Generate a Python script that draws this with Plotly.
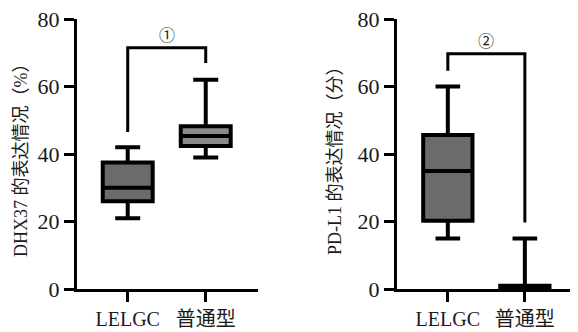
import plotly.graph_objects as go

# ---- data ----
categories = ["LELGC", "普通型"]

# Panel A: DHX37 expression (%)
dhx_lower = [21, 39]
dhx_q1 = [26, 42.4]
dhx_median = [30, 45.3]
dhx_q3 = [37.5, 48.2]
dhx_upper = [42, 62]

# Panel B: PD-L1 expression (score)
pdl_lower = [15, 0]
pdl_q1 = [20.2, 0]
pdl_median = [35, 0]
pdl_q3 = [45.6, 1]
pdl_upper = [60, 15]

# significance brackets: [top, left end, right end]
bracket_top = [71.5, 69.7]
bracket_left_end = [46.5, 64.7]
bracket_right_end = [67, 19.7]
bracket_labels = ["①", "②"]

y_titles = ["DHX37 的表达情况（%）", "PD-L1 的表达情况（分）"]
y_ticks = [0, 20, 40, 60, 80]

# page has an 8px body margin; figure fills the rest of the 578x332 window
OFF = 8
W, H = 578 - OFF, 332 - OFF
FONT = "Liberation Serif, 'Noto Sans CJK SC', serif"

fig = go.Figure()

panels = [
    (dhx_lower, dhx_q1, dhx_median, dhx_q3, dhx_upper, ["#6b6b6b", "#8b8b8b"]),
    (pdl_lower, pdl_q1, pdl_median, pdl_q3, pdl_upper, ["#6b6b6b", "#6b6b6b"]),
]

for p, (lo, q1, med, q3, up, colors) in enumerate(panels):
    xa = "x" if p == 0 else "x2"
    ya = "y" if p == 0 else "y2"
    for i, cat in enumerate(categories):
        fig.add_trace(go.Box(
            x=[cat], q1=[q1[i]], median=[med[i]], q3=[q3[i]],
            lowerfence=[lo[i]], upperfence=[up[i]],
            width=0.64, whiskerwidth=0.5,
            fillcolor=colors[i], line=dict(color="black", width=4),
            boxpoints=False, xaxis=xa, yaxis=ya, showlegend=False,
            hoverinfo="skip",
        ))
    # bracket
    fig.add_trace(go.Scatter(
        x=[categories[0], categories[0], categories[1], categories[1]],
        y=[bracket_left_end[p], bracket_top[p], bracket_top[p], bracket_right_end[p]],
        mode="lines", line=dict(color="black", width=3),
        xaxis=xa, yaxis=ya, showlegend=False, hoverinfo="skip",
        cliponaxis=False,
    ))

axis_common = dict(
    showline=True, linecolor="black", linewidth=3,
    ticks="outside", ticklen=10, tickwidth=3, tickcolor="black",
    showgrid=False, zeroline=False, automargin=False,
    ticklabeloverflow="allow",
)


def px_x(v):
    return (v - OFF) / W


def px_y(v):
    return 1 - (v - OFF) / H


ydom = [px_y(289), px_y(19)]
yfont = dict(family=FONT, size=22, color="#1a1a1a")
xfont = dict(family=FONT, size=20, color="#1a1a1a")

fig.update_layout(
    template="none",
    width=W, height=H,
    margin=dict(l=0, r=0, t=0, b=0, autoexpand=False),
    paper_bgcolor="white", plot_bgcolor="white",
    xaxis=dict(domain=[px_x(77), px_x(258)], type="category",
               categoryorder="array", categoryarray=categories,
               range=[-0.65, 1.67], anchor="y", tickfont=xfont, **axis_common),
    yaxis=dict(domain=ydom, range=[0, 80], tickvals=y_ticks, anchor="x",
               tickfont=yfont, **axis_common),
    xaxis2=dict(domain=[px_x(397), 1.0], type="category",
                categoryorder="array", categoryarray=categories,
                range=[-0.66, 1.69], anchor="y2", tickfont=xfont, **axis_common),
    yaxis2=dict(domain=ydom, range=[0, 80], tickvals=y_ticks, anchor="x2",
                tickfont=yfont, **axis_common),
)

# y-axis titles
for p, xc in enumerate([21, 335]):
    fig.add_annotation(
        text=y_titles[p], xref="paper", yref="paper",
        x=px_x(xc), y=px_y(156), xanchor="center", yanchor="middle",
        textangle=-90, showarrow=False,
        font=dict(family=FONT, size=18, color="#1a1a1a"),
    )

# bracket labels
for p in range(2):
    xa = "x" if p == 0 else "x2"
    ya = "y" if p == 0 else "y2"
    fig.add_annotation(
        text=bracket_labels[p], x=0.5, y=bracket_top[p], xref=xa, yref=ya,
        xanchor="center", yanchor="bottom", yshift=0, showarrow=False,
        font=dict(family="'Noto Sans CJK SC', sans-serif", size=16, color="#1a1a1a"),
    )

fig.write_html("out.html")
